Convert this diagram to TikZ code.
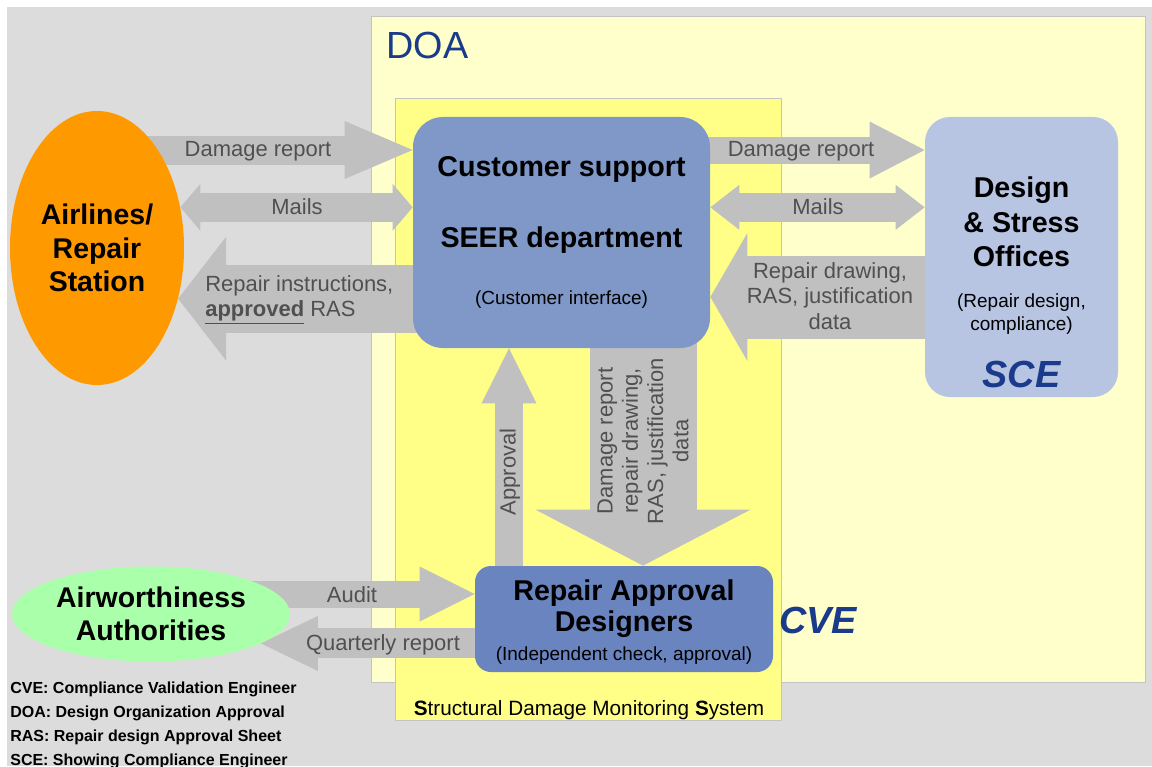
\documentclass[tikz,border=0pt]{standalone}
\usepackage{fontspec}
\setmainfont{Liberation Sans}
\usetikzlibrary{positioning, arrows.meta, shapes}
\usepackage{xcolor}

\definecolor{pagegray}{HTML}{DCDCDC}
\definecolor{doayellow}{HTML}{FFFFCC}
\definecolor{sdmsyellow}{HTML}{FFFF88}
\definecolor{zoneline}{HTML}{C4C4C4}
\definecolor{csblue}{HTML}{7F98C8}
\definecolor{dsoblue}{HTML}{B7C4E2}
\definecolor{radblue}{HTML}{6A84BF}
\definecolor{airorange}{HTML}{FF9900}
\definecolor{aagreen}{HTML}{AAFFAA}
\definecolor{flowgray}{HTML}{C0C0C0}
\definecolor{flowtext}{HTML}{505050}
\definecolor{acroblue}{HTML}{1A3A8C}

\pgfdeclarelayer{back}
\pgfdeclarelayer{flows}
\pgfsetlayers{back,flows,main}

\newcommand{\bigfont}{\fontsize{16.3}{19.5}\selectfont\bfseries}
\newcommand{\smallfont}{\fontsize{10.8}{13}\selectfont}
\newcommand{\flowfont}{\fontsize{12.5}{14.4}\selectfont}

\begin{document}
\begin{tikzpicture}[x=0.2mm, y=-0.2mm]
  \tikzstyle{party} = [ellipse, inner sep=0pt, align=center, font=\bigfont]
  \tikzstyle{office} = [rectangle, inner sep=0pt, align=center, font=\bigfont]
  \tikzstyle{flow} = [draw=flowgray, line cap=butt]
  \tikzstyle{flowtxt} = [inner sep=0pt, align=center, text=flowtext, font=\flowfont]
  \tikzstyle{acro} = [inner sep=0pt, text=acroblue, font=\fontsize{21.5}{26}\selectfont\bfseries\itshape]
  \tikzstyle{legend} = [inner sep=0pt, anchor=west, font=\fontsize{9.1}{11}\selectfont\bfseries]

  \useasboundingbox (0,0) rectangle (1152,766);

  % Fondo y zonas
  \begin{pgfonlayer}{back}
    \fill[white] (0,0) rectangle (1152,766);
    \fill[pagegray] (7,7) rectangle (1152,766);
    \filldraw[fill=doayellow, draw=zoneline] (371,16) rectangle (1145,682);
    \filldraw[fill=sdmsyellow, draw=zoneline] (395,98) rectangle (781,720);
  \end{pgfonlayer}
  \node[inner sep=0pt, anchor=west, text=acroblue, font=\fontsize{21.5}{26}\selectfont] (doa) at (386,45) {DOA};
  \node[inner sep=0pt, font=\fontsize{11.8}{14}\selectfont] (sdms) at (589,710) {\textbf{S}tructural Damage Monitoring \textbf{S}ystem};

  % Actores
  \node[party, fill=airorange, minimum width=34.8mm, minimum height=54.8mm, font=\fontsize{16.2}{19}\selectfont\bfseries] (air) at (97,248) {Airlines/\\Repair\\Station};
  \node[party, fill=aagreen, minimum width=55.6mm, minimum height=19mm, font=\fontsize{16.2}{18.7}\selectfont\bfseries] (aa) at (151,614) {Airworthiness\\Authorities};
  \node[office, fill=csblue, rounded corners=6mm, minimum width=59.4mm, minimum height=46.2mm] (cs) at (561.5,232.5)
    {Customer support\\[20.7pt]SEER department\\[13.1pt]{\smallfont\mdseries (Customer interface)}};
  \node[office, fill=dsoblue, rounded corners=5mm, minimum width=38.6mm, minimum height=56mm] (dso) at (1021.5,257) {};
  \node[office] (dsoname) at (1021.5,222) {Design\\\& Stress\\Offices};
  \node[office, font=\smallfont] (dsonote) at (1021.5,314.5) {(Repair design,\\compliance)};
  \node[acro] (sce) at (1021.5,374) {SCE};
  \node[office, fill=radblue, rounded corners=3.2mm, minimum width=59.6mm, minimum height=21.2mm, font=\fontsize{16.3}{18.1}\selectfont\bfseries] (rad) at (624,619)
    {\rule{0pt}{15pt}Repair Approval\\Designers\\[-2pt]{\smallfont\mdseries (Independent check, approval)}};
  \node[acro, anchor=west] (cve) at (779,620) {CVE};

  \coordinate (rowDR) at (0,150);
  \coordinate (rowRD) at (0,297);
  \coordinate (rowAU) at (0,594);
  \coordinate (colAP) at (509,0);
  \coordinate (colDN) at (643,0);

  % Flujos
  \begin{pgfonlayer}{flows}
    \draw[flow, line width=5.8mm, -{Triangle[length=13.6mm, width=11.6mm, line width=0pt]}] (air.center |- rowDR) -- (cs.west |- rowDR);
    \draw[flow, line width=5.8mm, {Triangle[length=4mm, width=9.4mm, line width=0pt]}-{Triangle[length=4mm, width=9.4mm, line width=0pt]}] (air.26) -- (cs.west |- air.26);
    \draw[flow, line width=13.6mm, -{Triangle[length=9.6mm, width=24.8mm, line width=0pt]}] (cs.center |- air.-32) -- (air.-32);
    \draw[flow, line width=5.4mm, -{Triangle[length=11mm, width=11.4mm, line width=0pt]}] (cs.center |- rowDR) -- (dso.west |- rowDR);
    \draw[flow, line width=5.8mm, {Triangle[length=5.8mm, width=9mm, line width=0pt]}-{Triangle[length=5.8mm, width=9mm, line width=0pt]}] (cs.east |- air.26) -- (dso.west |- air.26);
    \draw[flow, line width=16.6mm, -{Triangle[length=7.4mm, width=25.6mm, line width=0pt]}] (dso.center |- rowRD) -- (cs.east |- rowRD);
    \draw[flow, line width=5.6mm, -{Triangle[length=11mm, width=11mm, line width=0pt]}] (rad.center -| colAP) -- (cs.south -| colAP);
    \draw[flow, line width=21.4mm, -{Triangle[length=11.2mm, width=43mm, line width=0pt]}] (cs.center -| colDN) -- (rad.north -| colDN);
    \draw[flow, line width=5.4mm, -{Triangle[length=11mm, width=11mm, line width=0pt]}] (aa.center |- rowAU) -- (rad.west |- rowAU);
    \draw[flow, line width=6mm, -{Triangle[length=11.4mm, width=11mm, line width=0pt]}] (rad.center |- aa.-15) -- (aa.-15);
  \end{pgfonlayer}

  % Textos de los flujos
  \node[flowtxt] (lDR1) at (258,151) {Damage report};
  \node[flowtxt] (lML1) at (297,207) {Mails};
  \node[flowtxt, align=left, anchor=west] (lRI) at (205,300) {Repair instructions,\\\underline{\textbf{approved}} RAS};
  \node[flowtxt] (lDR2) at (801,151) {Damage report};
  \node[flowtxt] (lML2) at (818,207) {Mails};
  \node[flowtxt] (lRD) at (830,296) {Repair drawing,\\RAS, justification\\data};
  \node[flowtxt, rotate=90] (lAP) at (510,472) {Approval};
  \node[flowtxt, rotate=90] (lDN) at (643,441) {Damage report\\repair drawing,\\RAS, justification\\data};
  \node[flowtxt] (lAU) at (352,595) {Audit};
  \node[flowtxt] (lQR) at (383,645) {Quarterly report};

  % Leyenda
  \foreach \keyname/\keytext [count=\i] in {CVE/Compliance Validation Engineer, DOA/Design Organization Approval, RAS/Repair design Approval Sheet, SCE/Showing Compliance Engineer}
    \node[legend] (key\i) at (10,665.5+24*\i) {\keyname: \keytext};
\end{tikzpicture}
\end{document}
